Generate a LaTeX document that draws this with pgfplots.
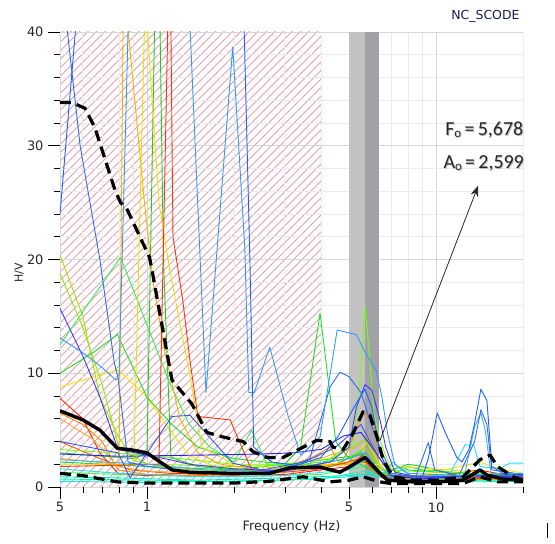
\documentclass[border=0pt]{standalone}
\usepackage{fontspec}
\setmainfont{DejaVu Sans}
\newfontfamily\annfont{Carlito}
\usepackage{pgfplots}
\pgfplotsset{compat=1.18}
\usetikzlibrary{arrows.meta,backgrounds}

\definecolor{cBlueA}{HTML}{1F5FFF}
\definecolor{cBlueB}{HTML}{3399FF}
\definecolor{cBlueC}{HTML}{2E6BF0}
\definecolor{cPurple}{HTML}{4433FF}
\definecolor{cNavy}{HTML}{2222EE}
\definecolor{cBlueM}{HTML}{3355EE}
\definecolor{cLBlue}{HTML}{45AAFF}
\definecolor{cCyan}{HTML}{22DDFF}
\definecolor{cTeal}{HTML}{00E5CC}
\definecolor{cTeal2}{HTML}{00F0E0}
\definecolor{cAqua}{HTML}{00FFAA}
\definecolor{cGreen}{HTML}{22DD22}
\definecolor{cGreen3}{HTML}{33EE55}
\definecolor{cGreenB}{HTML}{22CC22}
\definecolor{cGreenL1}{HTML}{00DD44}
\definecolor{cGreenL2}{HTML}{44FF44}
\definecolor{cYG}{HTML}{AADD00}
\definecolor{cYG2}{HTML}{88EE00}
\definecolor{cLime}{HTML}{77FF11}
\definecolor{cYellow}{HTML}{FFE100}
\definecolor{cYellowB}{HTML}{F0E000}
\definecolor{cGold}{HTML}{FFB000}
\definecolor{cRed}{HTML}{FF3311}
\definecolor{cRedL}{HTML}{FF2200}
\definecolor{cOrange}{HTML}{FF8800}
\definecolor{cOrange2}{HTML}{FFAA33}
\definecolor{cRedOr}{HTML}{FF5500}
\definecolor{cHatch}{HTML}{E0A2B2}
\definecolor{cBandL}{HTML}{C2C2C2}
\definecolor{cBandD}{HTML}{A2A2A6}
\definecolor{cTitle}{HTML}{1C1C48}

\pgfplotsset{win/.style={line width=0.9bp, line join=round}}

\begin{document}
\begin{tikzpicture}
\useasboundingbox (-60bp,-57bp) rectangle (495bp,487bp);
\begin{axis}[
  scale only axis, width=463bp, height=455bp,
  xmode=log, xmin=0.5, xmax=20, ymin=0, ymax=40,
  axis lines*=left, axis line style={draw=none},
  xtick={0.5,1,5,10}, xticklabels={5,1,5,10},
  minor xtick={0.6,0.7,0.8,0.9,2,3,4,6,7,8,9,20},
  ytick={0,10,20,30,40},
  minor ytick={2,4,6,8,12,14,16,18,22,24,26,28,32,34,36,38},
  grid=both,
  major grid style={draw=black!16, line width=0.9bp},
  minor grid style={draw=black!8, line width=0.9bp},
  tick align=outside, major tick length=12bp, minor tick length=6bp,
  tick style={black, line width=0.7bp},
  ticklabel style={font=\fontsize{13}{13}\selectfont, text=black!85},
  yticklabel style={/pgf/number format/assume math mode=true, xshift=-1bp},
  xlabel={Frequency (Hz)}, ylabel={H/V},
  xlabel style={at={(axis description cs:0.5,-0.088)}, anchor=center,
    font=\fontsize{13}{13}\selectfont, text=black!85},
  ylabel style={at={(axis description cs:-0.088,0.47)}, anchor=center,
    font=\fontsize{11}{11}\selectfont, text=black!85},
]
% corners of the hatched low-frequency zone (hatch drawn below, on the background layer)
\coordinate (h1) at (axis cs:0.5,0);
\coordinate (h2) at (axis cs:4.0,40);
% peak band
\addplot[draw=none, fill=cBandL] coordinates {(5.0,40) (5.678,40)} \closedcycle;
\addplot[draw=none, fill=cBandD] coordinates {(5.678,40) (6.33,40)} \closedcycle;

% individual windows
\addplot[win, cTeal] coordinates {(0.5,0.9)(0.8,0.8)(1.5,0.6)(3,0.8)(5,1.0)(6,1.2)(7.5,0.5)(20,0.7)};
\addplot[win, cTeal2] coordinates {(0.5,0.5)(1,0.4)(3,0.6)(6,1.0)(8,0.4)(20,0.5)};
\addplot[win, cAqua] coordinates {(0.5,0.7)(1,0.6)(2,0.5)(4,0.7)(5.7,1.4)(7,0.6)(20,0.6)};
\addplot[win, cGreenL1] coordinates {(0.5,2.2)(1,1.8)(2,1.5)(3.5,2.2)(5.5,2.8)(6.5,1.0)(7.5,1.8)(8,1.5)(20,0.8)};
\addplot[win, cGreenL2] coordinates {(0.5,1.3)(1,1.0)(2,0.9)(4,1.1)(5.7,1.8)(7,0.7)(20,0.6)};
\addplot[win, cRedOr] coordinates {(0.5,4.0)(0.687,2.5)(0.874,1.5)(1.2,1.2)(2,1.0)(3,1.4)(4.3,2.0)(5.7,2.2)(6.5,0.8)(20,0.7)};
\addplot[win, cRedL] coordinates {(0.5,7.8)(0.6,6)(0.687,3)(0.794,1.2)(1,1.0)(1.5,1.3)(2,1.2)(3,1.1)(4,1.5)(5,1.8)(5.7,3)(6.5,1.0)(8,0.5)(14,1.5)(20,0.8)};
\addplot[win, cOrange] coordinates {(0.5,6.5)(0.6,5.5)(0.7,4)(0.794,1.5)(1,1.1)(1.5,1.0)(2.5,1.2)(3.66,2.5)(4.3,3.5)(4.65,2)(5.0,3.3)(5.3,5.3)(5.6,6.5)(6.0,5.9)(6.4,3.0)(7,1.0)(9,0.6)(20,0.7)};
\addplot[win, cOrange2] coordinates {(0.5,6.0)(0.65,4.2)(0.794,1.8)(1,1.4)(2,1.1)(3,1.3)(4.3,2.8)(5.3,3.5)(5.8,4.5)(6.4,2.0)(7,0.9)(20,0.8)};
\addplot[win, cYellow] coordinates {(0.5,8.8)(0.794,10.3)(0.9,9)(1.0,7.9)(1.2,5)(1.4,2.8)(1.7,1.8)(2.5,1.4)(3.5,1.6)(5,2.0)(5.8,4.0)(6.5,1.5)(8,0.8)(14.3,2.2)(15.5,1.8)(20,1.2)};
\addplot[win, cYG] coordinates {(0.5,20.4)(0.6,15)(0.687,7.9)(0.794,4.5)(0.9,2.3)(1.2,1.6)(2,1.4)(3,1.5)(4.5,2)(5.2,2.8)(5.68,3.5)(6.3,1.8)(7,0.9)(20,0.9)};
\addplot[win, cYG2] coordinates {(0.5,18.8)(0.6,14)(0.7,9)(0.8,3.5)(1.0,2.0)(2,1.8)(4,2.0)(5.7,4.2)(6.4,1.5)(20,1.0)};
\addplot[win, cGreen] coordinates {(0.5,10)(0.65,11.8)(0.79,13.4)(1.0,7.9)(1.22,5.5)(1.5,3.5)(2,2.5)(3,2)(3.4,3.5)(3.97,15.3)(4.5,4)(5,2.5)(6,1.5)(7,1.0)(10,0.8)(20,0.8)};
\addplot[win, cGreen3] coordinates {(0.5,12.5)(0.81,20.2)(1.2,9.1)(1.4,5.5)(1.65,3.5)(2,2.2)(2.3,5.0)(2.6,2.0)(3,1.8)(4,2.2)(5,2.5)(5.5,3.2)(6.2,2.0)(7,1.0)(8,1.8)(9,1.5)(20,0.9)};
\addplot[win, cLime] coordinates {(0.5,3.3)(1.0,2.8)(2,2.0)(3,2.0)(4.3,2.5)(5.2,4.0)(5.45,9.4)(5.68,15.8)(5.85,12.3)(6.1,6.5)(6.4,4.1)(7,1.5)(8,1.0)(20,1.0)};
\addplot[win, cGreenB] coordinates {(0.5,3.0)(0.9,2.5)(1.0,3.0)(1.07,45)(1.11,40)(1.14,20)(1.21,2.6)(1.5,1.8)(2.5,1.3)(3.5,1.6)(4.5,2.0)(5.5,3.0)(6.5,1.2)(8,2.0)(9,1.8)(12,1.0)(20,1.0)};
\addplot[win, cGold] coordinates {(0.5,2.5)(0.8,2.0)(0.83,45)(0.847,42)(0.98,25)(1.05,18)(1.15,12)(1.3,6)(1.5,3)(1.8,2)(2.5,1.5)(3.5,1.8)(5,2.0)(5.7,2.5)(6.5,1.0)(20,0.9)};
\addplot[win, cYellowB] coordinates {(0.5,2.0)(0.9,2.0)(0.99,45)(1.0,41)(1.1,25)(1.2,19)(1.41,9.7)(1.55,3.5)(2,2.0)(3,1.6)(5,2.2)(6,2.0)(20,1.0)};
\addplot[win, cRed] coordinates {(0.5,1.8)(1.1,2.0)(1.19,45)(1.21,40)(1.23,22)(1.33,16.4)(1.41,11)(1.5,6.2)(1.94,5.9)(2.3,1.5)(3,1.3)(4,1.6)(5.5,2.5)(6.5,1.0)(20,0.8)};
\addplot[win, cCyan] coordinates {(0.5,1.6)(0.8,1.2)(1.5,0.9)(3,1.0)(5,1.5)(5.8,2.5)(6.5,1.0)(7.1,2.2)(7.6,1.5)(8.5,0.7)(11.2,1.2)(12.6,3.7)(13.5,3.7)(14.2,1.8)(16.6,1.6)(18,2.1)(20,2.1)};
\addplot[win, cLBlue] coordinates {(0.5,2.4)(1.0,2.0)(1.6,1.5)(2.5,1.4)(3.5,1.8)(5,2.5)(5.7,3.0)(6.5,1.0)(8,0.6)(12.5,0.8)(13.6,5.3)(14.3,6.5)(14.8,5)(15.5,1.2)(20,1.0)};
\addplot[win, cNavy] coordinates {(0.5,2.9)(0.8,2.7)(1.5,2.8)(2.5,2.9)(3.2,3.0)(4,3.3)(4.8,4.5)(5.5,4.8)(6.2,3)(7,1.0)(9,0.7)(13,1.0)(20,1.1)};
\addplot[win, cBlueM] coordinates {(0.5,4.0)(0.794,3.0)(0.874,0.8)(1.22,6.2)(1.41,6.3)(1.98,2.1)(2.5,1.5)(3.5,2.2)(4.5,3.5)(5.5,5.5)(6.2,3)(7,1.0)(20,0.8)};
\addplot[win, cPurple] coordinates {(0.5,15.7)(0.6,11.5)(0.687,7.9)(0.794,3.3)(1.0,2.8)(1.2,2.4)(1.4,2.0)(2,1.6)(3,1.4)(4.3,2.2)(5.0,3.5)(5.3,7)(5.68,9.0)(6.0,8.5)(6.4,5.9)(6.7,3.5)(7.2,1.3)(9,0.8)(13,1.0)(20,0.9)};
\addplot[win, cBlueC] coordinates {(0.5,52)(0.52,42)(0.587,30)(0.687,20)(0.77,11)(0.794,9.6)(0.86,2.2)(1.0,1.8)(1.5,1.3)(2.3,1.2)(3.0,1.5)(3.66,2.5)(4.3,8.8)(4.65,10.1)(5.0,9.7)(5.5,8.3)(6.0,5.3)(6.4,3.5)(7,1.2)(8.5,0.9)(9.4,3.9)(9.9,1.5)(12,1.0)(13.6,4)(14.3,6.8)(15,5.5)(15.6,1.5)(20,1.1)};
\addplot[win, cBlueB] coordinates {(0.5,13.1)(0.6,11.8)(0.7,10.5)(0.78,9.4)(0.80,9.6)(0.87,45)(0.9,60)(1.33,60)(1.4,42)(1.6,8.3)(1.98,38.7)(2.18,21)(2.25,8.3)(2.35,8.3)(2.66,12.3)(3.08,6.2)(3.4,2.8)(3.97,4.4)(4.55,13.8)(5.3,13.4)(5.7,11.8)(6.2,10.3)(6.5,7.9)(6.8,4.7)(7.2,2.0)(8,1.2)(12,1.0)(20,1.2)};
\addplot[win, cBlueA] coordinates {(0.5,24)(0.587,45)(0.65,60)(2.05,60)(2.16,42)(2.27,20)(2.34,3.5)(2.7,2.2)(3.3,1.9)(4.0,2.6)(4.6,4.5)(5.2,7.0)(5.68,8.6)(6.0,7.0)(6.4,3.0)(6.9,1.0)(8,0.6)(9.0,1.0)(9.4,2.5)(10.1,6.5)(10.8,4.7)(11.8,2.6)(12.3,2.2)(13.0,3.3)(13.6,5.6)(14.3,8.6)(15.0,7.6)(15.6,1.8)(17,1.2)(20,1.0)};

% average and standard deviation curves
\addplot[black, line width=3.2bp, line join=round, dash pattern=on 11bp off 6bp] coordinates {
(0.5,1.2)(0.6,1.0)(0.79,0.45)(1.0,0.35)(2,0.35)(2.66,0.5)(3.47,0.9)(4.3,0.45)(5.0,0.6)(5.59,0.9)(6.4,0.45)(7,0.3)(12.4,0.3)(14.2,0.9)(16.3,0.45)(20,0.45)};
\addplot[black, line width=3.2bp, line join=round, dash pattern=on 11bp off 6bp] coordinates {
(0.5,33.8)(0.55,33.8)(0.61,33.3)(0.66,31.6)(0.775,26.1)(0.81,25.0)(0.85,24.5)(1.02,20.2)(1.04,19.1)(1.22,9.4)(1.43,7.3)(1.61,4.8)(1.83,4.4)(2.15,4.0)(2.33,3.1)(2.6,2.6)(2.96,2.6)(3.47,3.5)(3.87,4.1)(4.3,4.0)(4.4,3.5)(4.77,3.3)(5.16,4.7)(5.59,6.6)(5.91,6.3)(6.25,4.4)(6.56,2.4)(7.1,0.9)(8.33,0.6)(10.3,0.6)(12.4,0.9)(14.2,2.4)(15.4,2.8)(16.3,1.8)(18.5,0.9)(20,0.6)};
\addplot[black, line width=3.4bp, line join=round] coordinates {
(0.5,6.7)(0.6,5.9)(0.687,5.0)(0.79,3.4)(0.89,3.25)(1.0,3.0)(1.11,2.2)(1.22,1.5)(1.41,1.3)(1.96,1.2)(2.66,1.2)(3.12,1.7)(3.97,1.75)(4.65,1.3)(5.0,1.75)(5.68,2.6)(6.4,1.2)(6.8,0.6)(8.3,0.45)(10.2,0.45)(12.4,0.6)(14.2,1.5)(15.0,1.05)(17,0.7)(20,0.6)};

\draw[black!85, line width=0.8bp, -{Stealth[length=11bp,width=8bp]}] (axis cs:6.4,4.1) -- (axis cs:14,26.5);
\coordinate (fo) at (axis cs:10.75,31.4);
\coordinate (ao) at (axis cs:10.6,28.5);
\end{axis}
\begin{scope}[on background layer]
  \clip (h1) rectangle (h2);
  \foreach \k in {0,...,90}{
    \draw[cHatch, line width=0.8bp] ([xshift=\k*8.5bp-470bp]h1) -- ++(480bp,480bp);
  }
\end{scope}
\node[anchor=base east, font=\fontsize{12.5}{12.5}\selectfont, text=cTitle]
  at ([yshift=12bp]current axis.north east) {NC\_SCODE};
\node[anchor=west, inner sep=0pt, text=black!25, font=\annfont\fontsize{20}{20}\selectfont] at ([shift={(1bp,-1.2bp)}]fo) {F\raisebox{-0.25ex}{\fontsize{13}{13}\selectfont o}\,=\,5,678};
\node[anchor=west, inner sep=0pt, text=black!85, font=\annfont\fontsize{20}{20}\selectfont] at (fo) {F\raisebox{-0.25ex}{\fontsize{13}{13}\selectfont o}\,=\,5,678};
\node[anchor=west, inner sep=0pt, text=black!25, font=\annfont\fontsize{20}{20}\selectfont] at ([shift={(1bp,-1.2bp)}]ao) {A\raisebox{-0.25ex}{\fontsize{13}{13}\selectfont o}\,=\,2,599};
\node[anchor=west, inner sep=0pt, text=black!85, font=\annfont\fontsize{20}{20}\selectfont] at (ao) {A\raisebox{-0.25ex}{\fontsize{13}{13}\selectfont o}\,=\,2,599};
\draw[black, line width=0.8bp] (487bp,-36bp) -- (487bp,-51bp);
\end{tikzpicture}
\end{document}
